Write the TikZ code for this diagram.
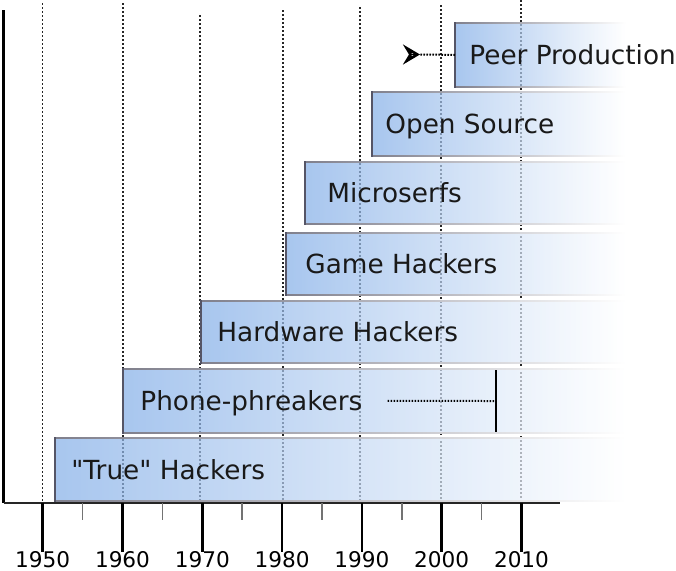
\documentclass[tikz,border=0pt]{standalone}
\usepackage{fontspec}
\setmainfont{DejaVu Sans}
\newfontfamily\barfont{DejaVu Sans}
\usepackage{tikz}
\usetikzlibrary{arrows.meta}
\usetikzlibrary{positioning}
\definecolor{barblue}{RGB}{131,174,231}
\definecolor{edgegray}{RGB}{85,85,102}
\tikzset{erabar/.style={rectangle, draw=none, left color=barblue, right color=white, fill opacity=0.7, inner sep=0pt, anchor=north west},
eralabel/.style={inner sep=0pt, text height=9.6pt, text depth=0pt, font=\barfont\fontsize{13.15}{15}\selectfont, text=black!90},
eraedge/.style={left color=edgegray!75, right color=white},
eraside/.style={edgegray, line width=0.8pt},
yearline/.style={black!85, line width=0.65pt, dash pattern=on 1pt off 1pt},
yearlabel/.style={inner sep=0pt, anchor=base, font=\fontsize{10.8}{12}\selectfont},
trendline/.style={black, line width=1pt, dash pattern=on 0.8pt off 0.7pt}}

\begin{document}
\begin{tikzpicture}[x=0.5pt, y=-0.5pt]
\useasboundingbox (0,0) rectangle (676,570);

%%% Decade lines
\foreach \x/\t in {42.7/3, 123/3, 200/15, 283/10, 360/7, 441/5, 521/0} {
  \draw[yearline] (\x,\t) -- (\x,503);
}

%%% Eras
\foreach \eraname/\eraleft/\eratop/\erabot/\eragap/\eratext in {
  truehackers/55/437/501/8pt/"True" Hackers,
  phone/123/368/433/8.5pt/Phone-phreakers,
  hardware/201/300/363/8pt/Hardware Hackers,
  game/286/232/295/9.5pt/Game Hackers,
  micro/305/161/224/11pt/Microserfs,
  open/372/91/156/6.5pt/Open Source,
  peer/455/22/87/7pt/Peer Production} {
  \pgfmathsetmacro{\eraw}{(625-\eraleft)*0.5}
  \pgfmathsetmacro{\erah}{(\erabot-\eratop)*0.5}
  \node[erabar, minimum width=\eraw pt, minimum height=\erah pt] (\eraname-bar) at (\eraleft,\eratop) {};
  \shade[eraedge] (\eraname-bar.north west) rectangle ([yshift=-0.8pt]\eraname-bar.north east);
  \shade[eraedge] ([yshift=0.8pt]\eraname-bar.south west) rectangle (\eraname-bar.south east);
  \draw[eraside] (\eraname-bar.north west) -- (\eraname-bar.south west);
  \node[eralabel, right=\eragap of \eraname-bar.west] (\eraname) {\eratext};
}

%%% Phone-phreakers stop
\coordinate (phonestop) at (496,401);
\draw[trendline] ([xshift=12.5pt]phone.east) -- (phonestop);
\draw[line width=1pt] ([yshift=15.5pt]phonestop) -- ([yshift=-15.5pt]phonestop);

%%% Peer production arrow
\coordinate (peertip) at (420,54.5);
\draw[trendline] (peer-bar.west) -- (peertip);
\draw[-{Stealth[open, length=8.5pt, width=10pt, inset=3pt, line width=1.6pt]}] ([xshift=-0.5pt]peertip) -- (peertip);

%%% Axis
\draw[black, line width=1.6pt] (3.5,10) -- (3.5,503);
\draw[black!85, line width=1.4pt] (3.5,503) -- (560,503);
\foreach \i in {0,...,6} {
  \pgfmathsetmacro{\x}{42.7 + \i*79.8}
  \pgfmathsetmacro{\yr}{int(1950 + 10*\i)}
  \draw[black, line width=1.3pt] (\x,503) -- (\x,552);
  \node[yearlabel] (y\yr) at (\x,567.5) {\yr};
}
\foreach \i in {0,...,5} {
  \pgfmathsetmacro{\x}{82.6 + \i*79.8}
  \draw[black!55, line width=0.8pt] (\x,503) -- (\x,520);
}

\end{tikzpicture}
\end{document}
